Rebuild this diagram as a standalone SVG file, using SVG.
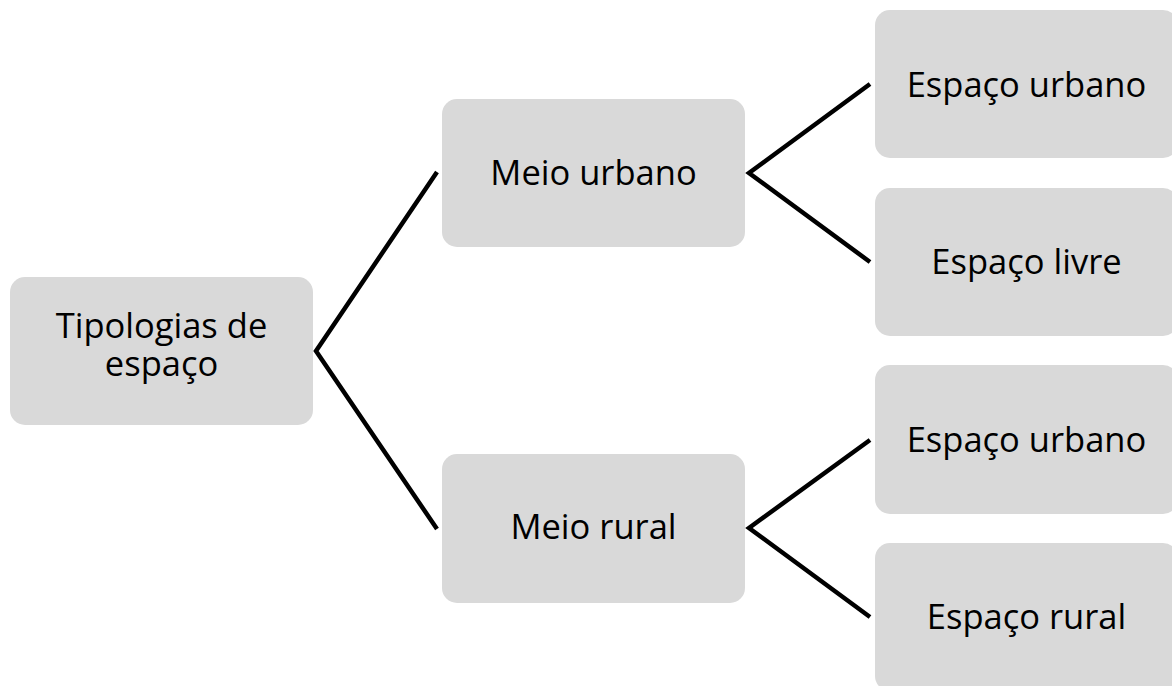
<svg xmlns="http://www.w3.org/2000/svg" width="1172" height="686" viewBox="0 0 1172 686">
<style>
.box{fill:#d9d9d9;}
.lbl{font-family:"Open Sans","Noto Sans",sans-serif;font-size:34.5px;fill:#000;text-anchor:middle;}
.con{fill:none;stroke:#000;stroke-width:4.5;stroke-linejoin:miter;}
</style>
<rect width="1172" height="686" fill="#fff"/>
<g id="connectors">
<polyline class="con" points="437,172 316,351 437,529"/>
<polyline class="con" points="870,84 749,173 870,262"/>
<polyline class="con" points="870,440 749,528 870,617"/>
</g>
<g id="n-root"><rect class="box" x="10" y="277" width="303" height="148" rx="15"/><text class="lbl" x="161.5" y="338">Tipologias de<tspan x="161.5" dy="38">espaço</tspan></text></g>
<g id="n-meio-urbano"><rect class="box" x="442" y="99" width="303" height="148" rx="15"/><text class="lbl" x="593.5" y="185">Meio urbano</text></g>
<g id="n-meio-rural"><rect class="box" x="442" y="454" width="303" height="149" rx="15"/><text class="lbl" x="593.5" y="539">Meio rural</text></g>
<g id="n-eu1"><rect class="box" x="875" y="10" width="303" height="148" rx="15"/><text class="lbl" x="1026.5" y="97">Espaço urbano</text></g>
<g id="n-el"><rect class="box" x="875" y="188" width="303" height="148" rx="15"/><text class="lbl" x="1026.5" y="274">Espaço livre</text></g>
<g id="n-eu2"><rect class="box" x="875" y="365" width="303" height="149" rx="15"/><text class="lbl" x="1026.5" y="452">Espaço urbano</text></g>
<g id="n-er"><rect class="box" x="875" y="543" width="303" height="148" rx="15"/><text class="lbl" x="1026.5" y="629">Espaço rural</text></g>
</svg>
